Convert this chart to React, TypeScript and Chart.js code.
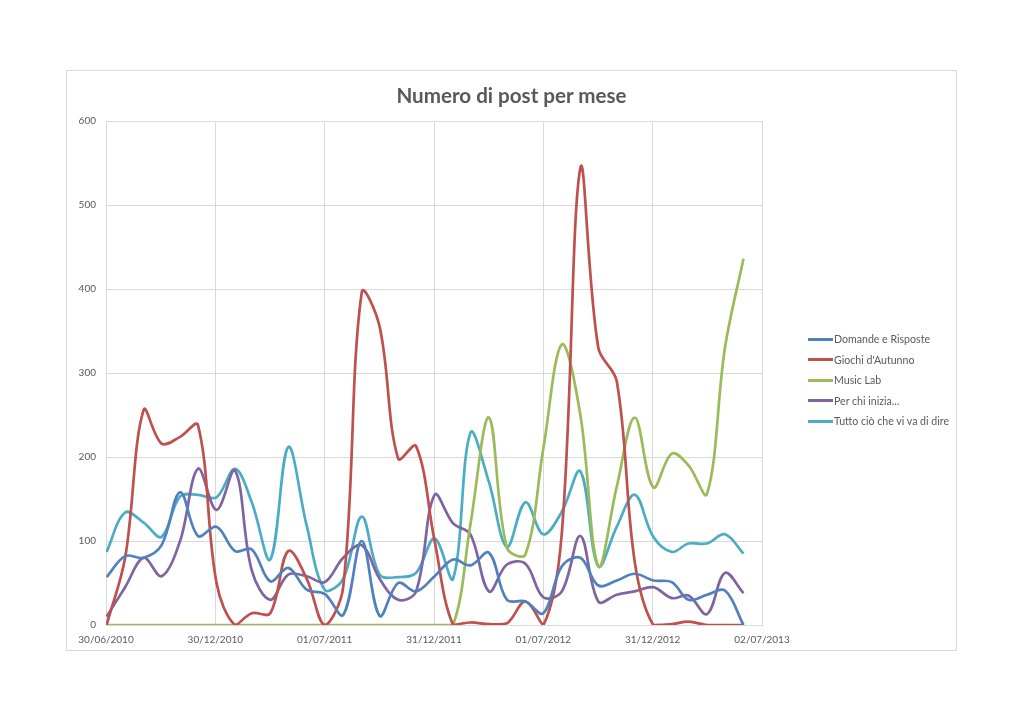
import React, { useEffect, useRef } from "react";
import { Chart, registerables } from "chart.js";

Chart.register(...registerables);

// ---- data ----
const months = [
  "07/2010", "08/2010", "09/2010", "10/2010", "11/2010", "12/2010",
  "01/2011", "02/2011", "03/2011", "04/2011", "05/2011", "06/2011",
  "07/2011", "08/2011", "09/2011", "10/2011", "11/2011", "12/2011",
  "01/2012", "02/2012", "03/2012", "04/2012", "05/2012", "06/2012",
  "07/2012", "08/2012", "09/2012", "10/2012", "11/2012", "12/2012",
  "01/2013", "02/2013", "03/2013", "04/2013", "05/2013", "06/2013",
];

const seriesNames = [
  "Domande e Risposte",
  "Giochi d'Autunno",
  "Music Lab",
  "Per chi inizia...",
  "Tutto ciò che vi va di dire",
];

const domandeERisposte = [
  57, 82, 80, 95, 158, 106, 117, 88, 90, 52, 68, 42,
  37, 12, 100, 11, 50, 40, 58, 78, 71, 86, 30, 28,
  14, 70, 80, 47, 53, 61, 53, 51, 30, 36, 41, 0,
];
const giochiDAutunno = [
  0, 80, 256, 216, 224, 238, 50, 0, 14, 14, 88, 55,
  0, 45, 396, 355, 198, 213, 100, 0, 3, 1, 2, 28,
  0, 110, 544, 330, 290, 75, 0, 1, 4, 0, 0, 0,
];
const musicLab = [
  0, 0, 0, 0, 0, 0, 0, 0, 0, 0, 0, 0,
  0, 0, 0, 0, 0, 0, 0, 0, 120, 247, 92, 84,
  210, 334, 250, 70, 165, 247, 164, 204, 190, 156, 330, 436,
];
const perChiInizia = [
  10, 45, 80, 58, 100, 186, 137, 184, 65, 30, 60, 58,
  51, 80, 95, 55, 30, 40, 155, 121, 108, 40, 72, 73,
  33, 40, 106, 28, 36, 40, 45, 32, 35, 13, 62, 38,
];
const tuttoCio = [
  87, 134, 122, 105, 153, 155, 152, 186, 146, 78, 212, 118,
  42, 55, 129, 60, 57, 62, 103, 55, 229, 170, 93, 146,
  108, 135, 183, 70, 117, 155, 105, 87, 97, 97, 108, 85,
];

const seriesValues = [domandeERisposte, giochiDAutunno, musicLab, perChiInizia, tuttoCio];
const seriesColors = ["#4F81BD", "#C0504D", "#9BBB59", "#8064A2", "#4BACC6"];

// x axis: date axis from 30/06/2010, major unit 183 days
const axisStart = { y: 2010, m: 6, d: 30 };
const axisStepDays = 183;
const axisSteps = 6;
const yMax = 600;
const yStep = 100;

const DAY = 86400000;
const startMs = Date.UTC(axisStart.y, axisStart.m - 1, axisStart.d);
const monthToDay = (s: string) => {
  const [mm, yy] = s.split("/").map(Number);
  return (Date.UTC(yy, mm - 1, 1) - startMs) / DAY;
};
const pad2 = (n: number) => (n < 10 ? "0" + n : "" + n);
const dayToLabel = (v: number) => {
  const d = new Date(startMs + v * DAY);
  return pad2(d.getUTCDate()) + "/" + pad2(d.getUTCMonth() + 1) + "/" + d.getUTCFullYear();
};

const FONT = "Lato, 'Open Sans', sans-serif";
const TEXT = "#595959";
const GRID = "#d9d9d9";

export default function App() {
  const ref = useRef<HTMLCanvasElement | null>(null);

  useEffect(() => {
    if (!ref.current) return;
    const chart = new Chart(ref.current, {
      type: "line",
      data: {
        datasets: seriesNames.map((name, i) => ({
          label: name,
          data: months.map((m, j) => ({ x: monthToDay(m), y: seriesValues[i][j] })),
          borderColor: seriesColors[i],
          backgroundColor: seriesColors[i],
          borderWidth: 2.7,
          pointRadius: 0,
          tension: 0.36,
          fill: false,
        })),
      },
      options: {
        responsive: false,
        animation: false,
        devicePixelRatio: 1,
        layout: { padding: { left: 66, top: 121, right: 262, bottom: 73 } },
        plugins: {
          legend: { display: false },
          title: { display: false },
          tooltip: { enabled: false },
        },
        scales: {
          x: {
            type: "linear",
            min: 0,
            max: axisStepDays * axisSteps,
            afterFit: (s: any) => { s.height = 26; },
            ticks: {
              stepSize: axisStepDays,
              autoSkip: false,
              maxRotation: 0,
              padding: 9,
              color: TEXT,
              font: { family: FONT, size: 10 },
              callback: (v: any) => dayToLabel(Number(v)),
            },
            grid: { color: GRID, lineWidth: 1, drawTicks: false },
            border: { color: GRID, width: 1 },
          },
          y: {
            min: 0,
            max: yMax,
            afterFit: (s: any) => { s.width = 40; },
            ticks: {
              stepSize: yStep,
              padding: 10,
              color: TEXT,
              font: { family: FONT, size: 10 },
            },
            grid: { color: GRID, lineWidth: 1, drawTicks: false },
            border: { color: GRID, width: 1 },
          },
        },
      },
    });
    return () => chart.destroy();
  }, []);

  return (
    <div style={{ position: "absolute", left: 0, top: 0, width: 1024, height: 724, background: "#fff" }}>
      <div
        style={{
          position: "absolute", left: 66, top: 70, width: 891, height: 581,
          border: "1px solid " + GRID, boxSizing: "border-box",
        }}
      />
      <canvas
        ref={ref}
        width={1024}
        height={724}
        style={{ position: "absolute", left: 0, top: 0, width: 1024, height: 724 }}
      />
      <div
        style={{
          position: "absolute", left: 66, width: 891, top: 81, textAlign: "center",
          fontFamily: FONT, fontWeight: 700, fontSize: 20.6, color: TEXT, lineHeight: "28px",
        }}
      >
        Numero di post per mese
      </div>
      <div style={{ position: "absolute", left: 808, top: 329, fontFamily: FONT, fontSize: 10.6, color: TEXT }}>
        {seriesNames.map((n, i) => (
          <div key={n} style={{ display: "flex", alignItems: "center", height: 20.5, whiteSpace: "nowrap" }}>
            <span style={{ display: "inline-block", width: 25, height: 3, background: seriesColors[i], marginRight: 1 }} />
            <span>{n}</span>
          </div>
        ))}
      </div>
    </div>
  );
}
